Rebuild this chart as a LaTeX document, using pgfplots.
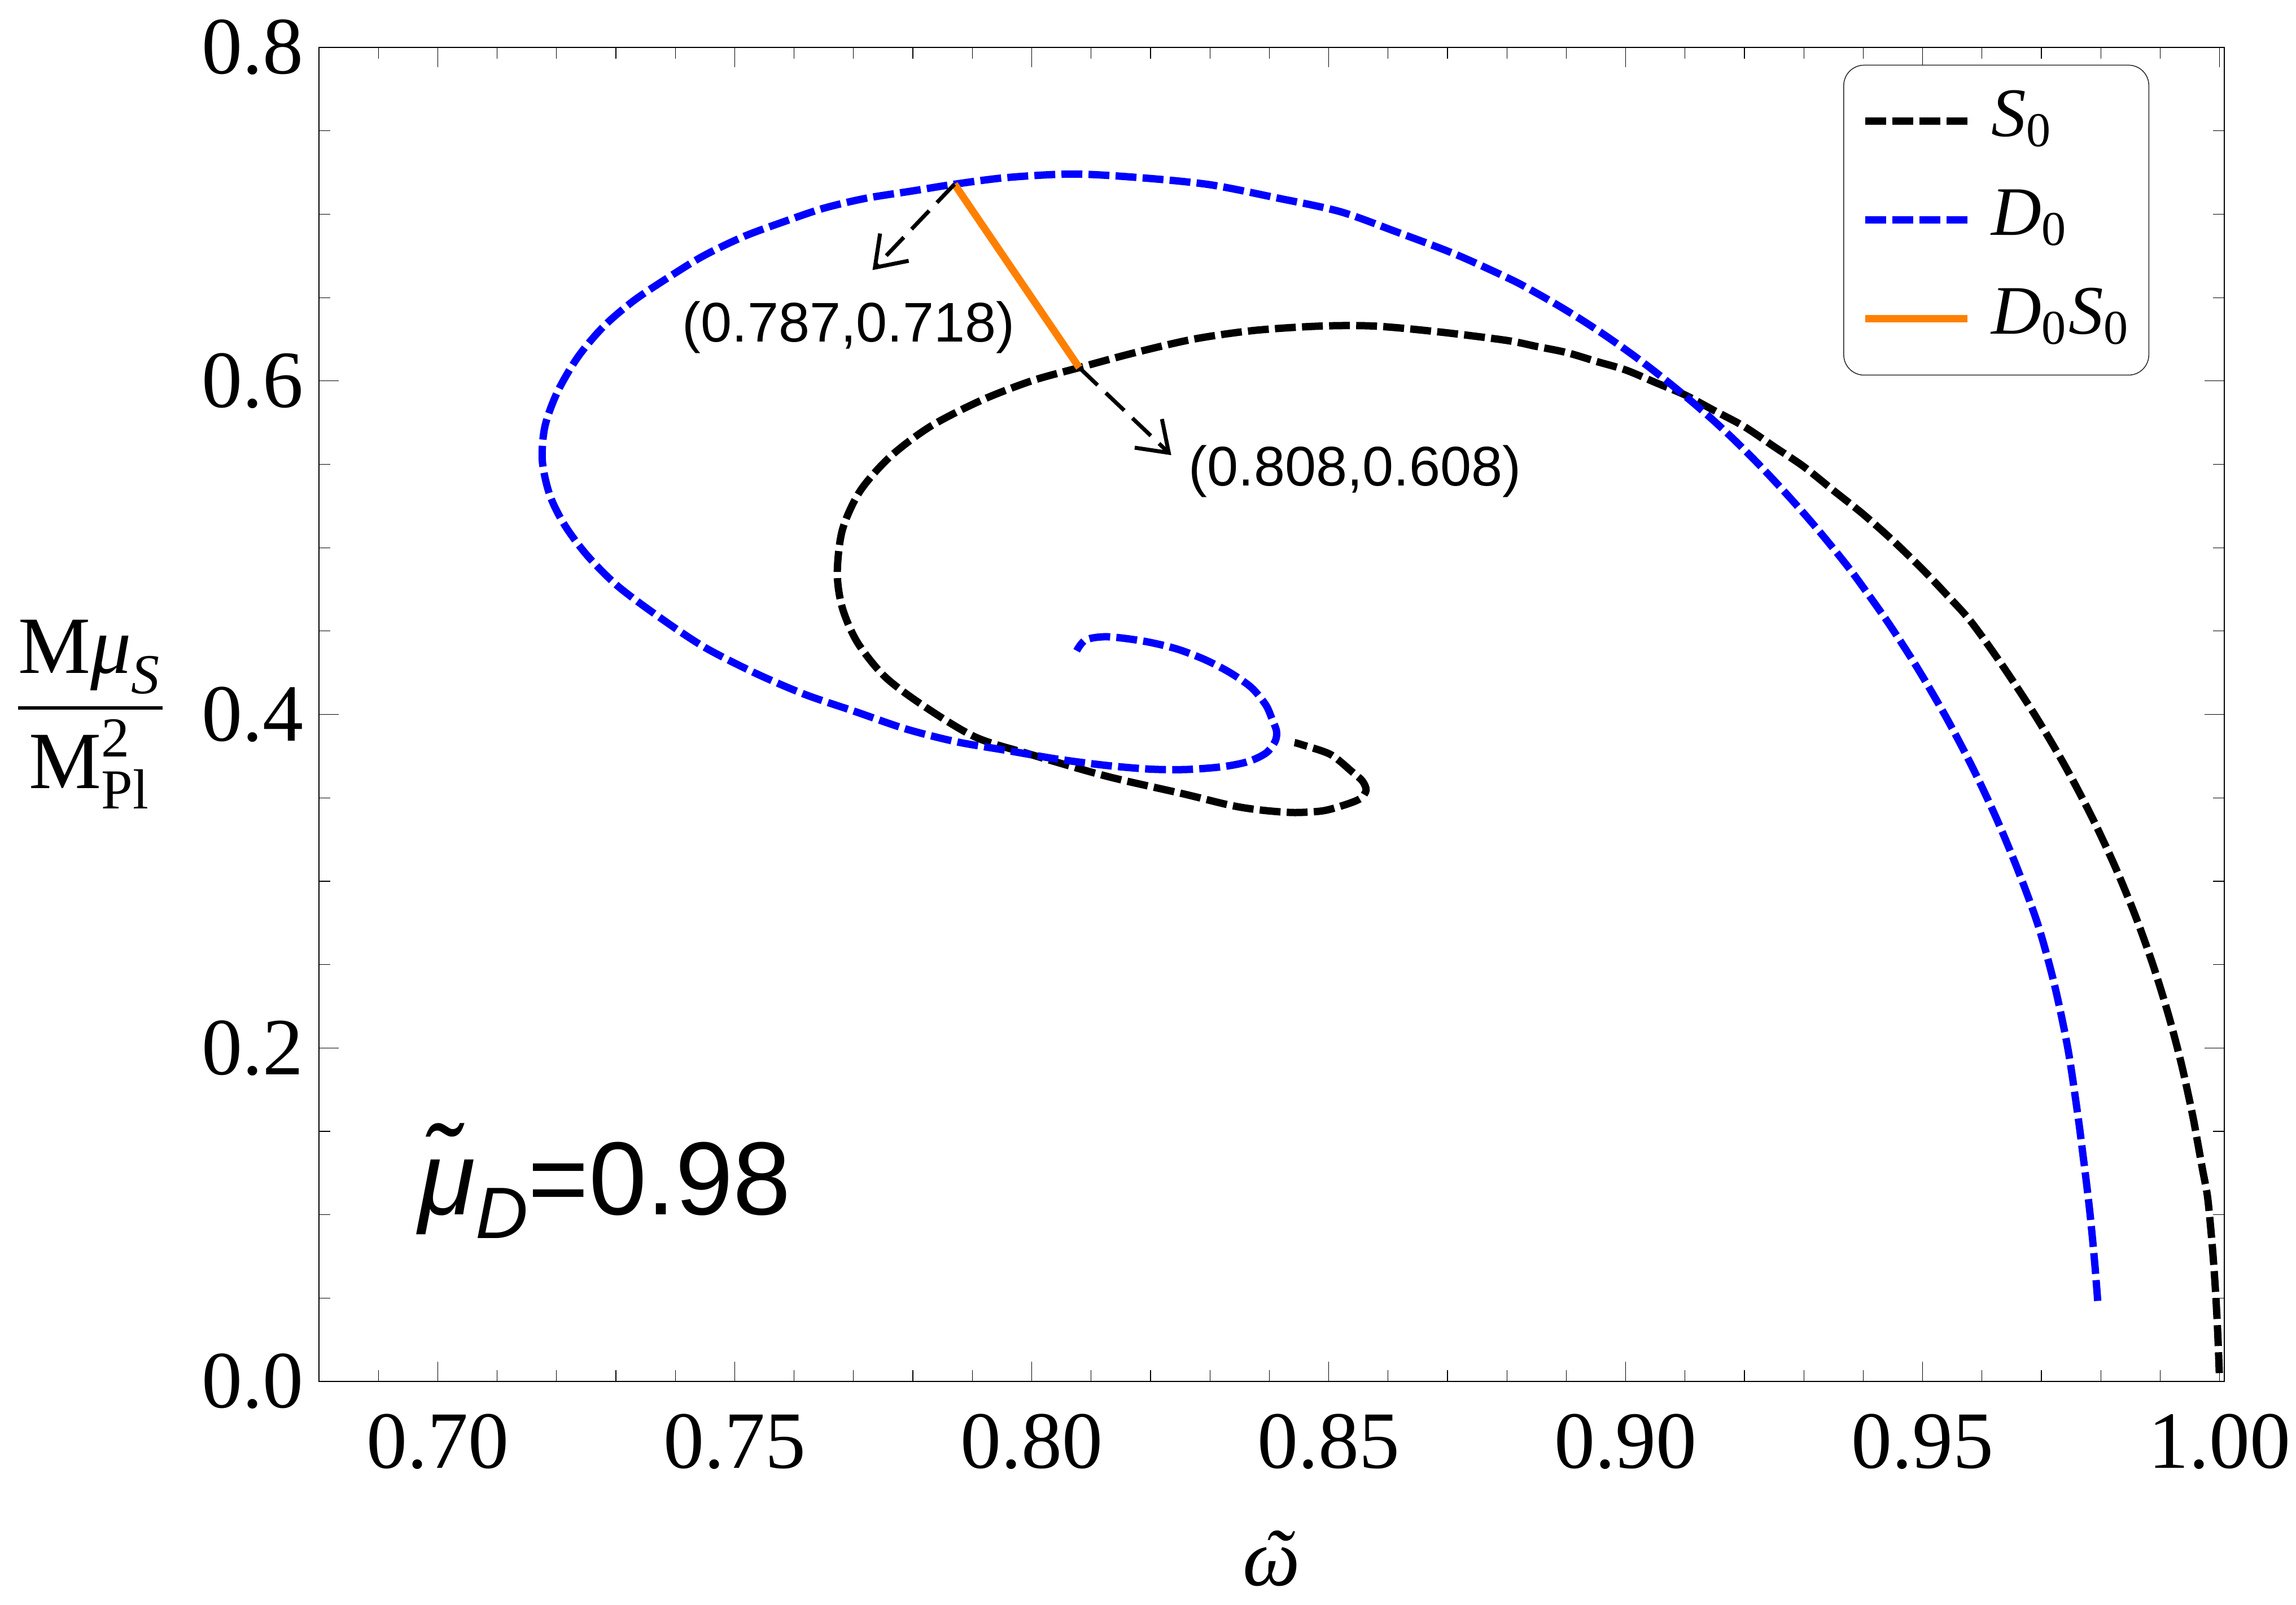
\documentclass[border=0pt]{standalone}
\usepackage{amsmath}
\usepackage{fontspec}
\setmainfont{Liberation Serif}
\newfontfamily\arial{Liberation Sans}
\usepackage{pgfplots}
\pgfplotsset{compat=1.18}
\usetikzlibrary{arrows.meta}
\definecolor{mmaorange}{rgb}{1,0.5,0}
\begin{document}
\begin{tikzpicture}
\begin{axis}[
  name=ax,
  scale only axis,
  width=337.5pt, height=236.3pt,
  xmin=0.68, xmax=1.0008, ymin=0, ymax=0.8,
  clip=false,
  axis line style={line width=0.12pt},
  tick style={line width=0.12pt, black},
  major tick length=3.5pt, minor tick length=2pt,
  xtick={0.70,0.75,0.80,0.85,0.90,0.95,1.00},
  minor xtick={0.69,0.71,0.72,0.73,0.74,0.76,0.77,0.78,0.79,0.81,0.82,0.83,0.84,0.86,0.87,0.88,0.89,0.91,0.92,0.93,0.94,0.96,0.97,0.98,0.99},
  ytick={0,0.2,0.4,0.6,0.8},
  minor ytick={0.05,0.1,0.15,0.25,0.3,0.35,0.45,0.5,0.55,0.65,0.7,0.75},
  /pgf/number format/assume math mode=true,
  tick label style={font=\fontsize{14.4}{17}\selectfont},
  xticklabel style={/pgf/number format/fixed, /pgf/number format/fixed zerofill, /pgf/number format/precision=2, anchor=base, inner sep=0pt, yshift=-15.3pt},
  yticklabel style={/pgf/number format/fixed, /pgf/number format/fixed zerofill, /pgf/number format/precision=1, anchor=east, inner sep=0pt, xshift=-2.5pt},
  xlabel={\itshape\ooalign{ω\cr\hidewidth\kern0.12em ˜\hidewidth\cr}},
  xlabel style={at={(axis description cs:0.5,0)}, anchor=base, yshift=-36.1pt, inner sep=0pt, font=\fontsize{14.4}{17}\selectfont},
  ylabel={$\dfrac{\text{M}\text{\itshape μ}_{\text{\itshape S}}}{\text{M}^{\text{2}}_{\text{Pl}}}$},
  ylabel style={rotate=-90, at={(axis description cs:-0.12,0.5)}, anchor=center, inner sep=0pt, font=\fontsize{14.4}{17}\selectfont},
  legend style={
    at={(axis cs:0.93665,0.78964)}, anchor=north west,
    draw=black!85, line width=0.15pt, rounded corners=3.6pt,
    inner xsep=3.2pt, inner ysep=4.1pt,
    row sep=5.8pt, column sep=3.6pt,
    font=\fontsize{12.3}{14}\selectfont,
    nodes={inner sep=0pt, text height=8.5pt, text depth=3.2pt},
  },
  legend cell align=left,
  legend image code/.code={\draw[#1] (0pt,0pt) -- (18.1pt,0pt);},
]
% S0
\addplot[black, line width=1.3pt, dash pattern=on 3.7pt off 1.1pt, smooth, tension=0.5] coordinates {
(0.99995,0.0050) (0.99985,0.0150) (0.99965,0.0320) (0.99930,0.0550) (0.99880,0.0800)
(0.99800,0.1100) (0.99715,0.1267) (0.99630,0.1435) (0.99544,0.1600) (0.99360,0.1900)
(0.99138,0.2200) (0.98877,0.2500) (0.98574,0.2800) (0.98225,0.3100) (0.97829,0.3400)
(0.97384,0.3700) (0.96885,0.4000) (0.96332,0.4300) (0.95807,0.4560) (0.95400,0.4720)
(0.95000,0.4870) (0.94500,0.5043) (0.94000,0.5201) (0.93500,0.5343) (0.93000,0.5486)
(0.92500,0.5606) (0.92000,0.5726) (0.91500,0.5821) (0.91000,0.5916) (0.90500,0.5991)
(0.90000,0.6066) (0.89500,0.6118) (0.89000,0.6171) (0.88500,0.6207) (0.88000,0.6243)
(0.86886,0.6293) (0.85782,0.6329) (0.84849,0.6329) (0.83746,0.6303) (0.82727,0.6251)
(0.81708,0.6167) (0.80800,0.6080) (0.79994,0.6000) (0.79146,0.5883) (0.78297,0.5728)
(0.77618,0.5546) (0.77109,0.5339) (0.76812,0.5106) (0.76727,0.4847) (0.76812,0.4639)
(0.77066,0.4432) (0.77533,0.4225) (0.78212,0.4044) (0.79061,0.3863) (0.79994,0.3759)
(0.81267,0.3629) (0.82540,0.3525) (0.83350,0.3455) (0.83850,0.3427) (0.84400,0.3412)
(0.84900,0.3422) (0.85273,0.3458) (0.85530,0.3495) (0.85630,0.3545) (0.85570,0.3600)
(0.85395,0.3656) (0.85031,0.3760) (0.84546,0.3819) (0.84425,0.3831)
};
\addlegendentry{{\itshape S}\textsubscript{0}}
% D0
\addplot[blue, line width=1.3pt, dash pattern=on 3.7pt off 1.1pt, smooth, tension=0.5] coordinates {
(0.97948,0.0483) (0.97904,0.0684) (0.97858,0.0865) (0.97810,0.1034) (0.97755,0.1202)
(0.97700,0.1358) (0.97620,0.1580) (0.97450,0.1988) (0.97220,0.2379) (0.96950,0.2730)
(0.96620,0.3053) (0.96250,0.3371) (0.95850,0.3675) (0.95400,0.3981) (0.94900,0.4286)
(0.94400,0.4561) (0.93872,0.4825) (0.93605,0.4948) (0.93291,0.5085) (0.93000,0.5206)
(0.92709,0.5322) (0.92418,0.5434) (0.92126,0.5542) (0.91787,0.5661) (0.91448,0.5773)
(0.91108,0.5878) (0.90769,0.5978) (0.90381,0.6087) (0.90041,0.6177) (0.89653,0.6274)
(0.89265,0.6365) (0.88877,0.6450) (0.88500,0.6527) (0.88074,0.6608) (0.87140,0.6759)
(0.86121,0.6897) (0.85188,0.7016) (0.84084,0.7101) (0.82981,0.7178) (0.81793,0.7220)
(0.80690,0.7241) (0.79587,0.7220) (0.78700,0.7180) (0.78000,0.7140) (0.77200,0.7095)
(0.76500,0.7036) (0.75850,0.6958) (0.75157,0.6867) (0.74478,0.6751) (0.73884,0.6621)
(0.73290,0.6479) (0.72781,0.6323) (0.72356,0.6142) (0.72016,0.5935) (0.71804,0.5727)
(0.71761,0.5520) (0.71889,0.5313) (0.72143,0.5132) (0.72525,0.4950) (0.73034,0.4769)
(0.73713,0.4588) (0.74478,0.4406) (0.75327,0.4251) (0.76175,0.4121) (0.77024,0.4018)
(0.77873,0.3914) (0.78721,0.3837) (0.79570,0.3785) (0.80418,0.3733) (0.81267,0.3694)
(0.82000,0.3672) (0.82610,0.3670) (0.83220,0.3687) (0.83650,0.3718) (0.83950,0.3770)
(0.84100,0.3840) (0.84122,0.3900) (0.84050,0.3970) (0.83940,0.4058) (0.83697,0.4162)
(0.83334,0.4252) (0.82909,0.4330) (0.82424,0.4395) (0.81878,0.4440) (0.81272,0.4466)
(0.80908,0.4447) (0.80757,0.4382)
};
\addlegendentry{{\itshape D}\textsubscript{0}}
% D0S0
\addplot[mmaorange, line width=1.3pt] coordinates {(0.787,0.718) (0.808,0.608)};
\addlegendentry{{\itshape D}\textsubscript{0}{\itshape S}\textsubscript{0}}
% annotation arrows
\addplot[black, line width=0.7pt, dash pattern=on 4.5pt off 2pt, -{Straight Barb[length=5pt,width=7pt]}, forget plot] coordinates {(0.787,0.718) (0.7732,0.6665)};
\addplot[black, line width=0.7pt, dash pattern=on 4.5pt off 2pt, -{Straight Barb[length=5pt,width=7pt]}, forget plot] coordinates {(0.808,0.608) (0.8235,0.5555)};
\node[anchor=base, inner sep=0pt, font=\arial\fontsize{9.9}{12}\selectfont] at (axis cs:0.76917,0.6235) {(0.787,0.718)};
\node[anchor=base, inner sep=0pt, font=\arial\fontsize{9.9}{12}\selectfont] at (axis cs:0.85443,0.5370) {(0.808,0.608)};
\node[anchor=base west, inner sep=0pt, font=\arial\fontsize{18.4}{21}\selectfont] at (axis cs:0.6966,0.1000) {\itshape μ̃\raisebox{-4.2pt}{\fontsize{12.9}{14}\selectfont D}\upshape=0.98};
\end{axis}
\pgfresetboundingbox
\path[use as bounding box] ([xshift=-56.5pt,yshift=-39.5pt]ax.south west) rectangle ([xshift=350.2pt,yshift=244.7pt]ax.south west);
\end{tikzpicture}
\end{document}
